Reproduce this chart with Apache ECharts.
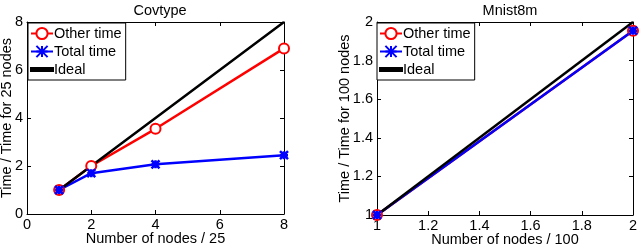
<!DOCTYPE html>
<html><head><meta charset="utf-8">
<script src="https://cdn.jsdelivr.net/npm/echarts@6/dist/echarts.min.js"></script>
<style>html,body{margin:0;padding:0;background:#fff}#c{width:640px;height:244px}</style>
</head><body><div id="c"></div>
<script>
const covNodes = [1, 2, 4, 8];
const covOther = [1, 2, 3.55, 6.9];
const covTotal = [1, 1.7, 2.07, 2.45];
const covIdeal = [1, 2, 4, 8];
const mnNodes = [1, 2];
const mnOther = [1, 1.955];
const mnTotal = [1, 1.955];
const mnIdeal = [1, 2];
const covTicks = [0, 2, 4, 6, 8];
const mnTicks = [1, 1.2, 1.4, 1.6, 1.8, 2];

const FONT = 'Liberation Sans';
const FS = 14.5;
const starPath = 'path://M0,0L10,10M10,0L0,10M5,0L5,10M0,5L10,5';
const pair = (xs, ys) => xs.map((x, i) => [x, ys[i]]);

const chart = echarts.init(document.getElementById('c'), null, {renderer: 'canvas'});

function axisPair(gi, min, max, interval, name, isX) {
  const base = {
    gridIndex: gi, type: 'value', min: min, max: max, interval: interval,
    axisLine: {show: true, onZero: false, lineStyle: {color: '#000', width: 1}},
    axisTick: {show: true, inside: true, length: 4, lineStyle: {color: '#000'}},
    splitLine: {show: false}
  };
  const main = Object.assign({}, base, {
    name: name, nameLocation: 'middle', nameMoveOverlap: false,
    nameGap: isX ? 17 : (gi === 0 ? 13 : 25),
    nameTextStyle: {fontFamily: FONT, fontSize: FS, color: '#000'},
    axisLabel: {show: true, fontFamily: FONT, fontSize: FS, color: '#000', margin: isX ? 3 : 4,
      formatter: v => String(Math.round(v * 10) / 10)}
  });
  const sec = Object.assign({}, base, {
    position: isX ? 'top' : 'right',
    axisLabel: {show: false}
  });
  if (isX) { main.position = 'bottom'; } else { main.position = 'left'; }
  return [main, sec];
}

const xa = [].concat(
  axisPair(0, 0, 8, 2, 'Number of nodes / 25', true),
  axisPair(1, 1, 2, 0.2, 'Number of nodes / 100', true)
);
const ya = [].concat(
  axisPair(0, 0, 8, 2, 'Time / Time for 25 nodes', false),
  axisPair(1, 1, 2, 0.2, 'Time / Time for 100 nodes', false)
);

function mk(name, data, gi, color, symbol, size) {
  return {
    name: name, type: 'line', xAxisIndex: gi * 2, yAxisIndex: gi * 2, data: data,
    symbol: symbol, symbolSize: size, showSymbol: symbol !== 'none',
    lineStyle: {color: color, width: 2.5},
    itemStyle: {color: color, borderColor: color, borderWidth: 2.5},
    animation: false
  };
}

const legendBase = {
  orient: 'vertical', backgroundColor: '#fff', borderColor: '#000', borderWidth: 1,
  padding: [3, 4, 3, 2], itemGap: 3, itemWidth: 22, itemHeight: 14,
  textStyle: {fontFamily: FONT, fontSize: FS, color: '#000', padding: [0, 0, 0, -4]},
  data: ['Other time', 'Total time', {name: 'Ideal', icon: 'path://M0,0L22,0L22,3L0,3Z', itemStyle: {color: '#000'}}]
};

chart.setOption({
  backgroundColor: '#fff',
  animation: false,
  title: [
    {text: 'Covtype', left: 155, top: -2, textAlign: 'center', textStyle: {fontFamily: FONT, fontSize: FS, fontWeight: 'normal', color: '#000'}},
    {text: 'Mnist8m', left: 505, top: -2, textAlign: 'center', textStyle: {fontFamily: FONT, fontSize: FS, fontWeight: 'normal', color: '#000'}}
  ],
  grid: [
    {left: 27, top: 22, width: 257, height: 192, outerBoundsMode: 'none', containLabel: false},
    {left: 377, top: 22, width: 256, height: 193, outerBoundsMode: 'none', containLabel: false}
  ],
  xAxis: xa,
  yAxis: ya,
  legend: [
    Object.assign({}, legendBase, {left: 28, top: 23}),
    Object.assign({}, legendBase, {left: 377, top: 23})
  ],
  series: [
    mk('Other time', pair(covNodes, covOther), 0, '#ff0000', 'emptyCircle', 10),
    mk('Total time', pair(covNodes, covTotal), 0, '#0000ff', starPath, 8),
    mk('Ideal', pair(covNodes, covIdeal), 0, '#000000', 'none', 0),
    mk('Other time', pair(mnNodes, mnOther), 1, '#ff0000', 'emptyCircle', 10),
    mk('Total time', pair(mnNodes, mnTotal), 1, '#0000ff', starPath, 8),
    mk('Ideal', pair(mnNodes, mnIdeal), 1, '#000000', 'none', 0)
  ]
});
</script></body></html>
